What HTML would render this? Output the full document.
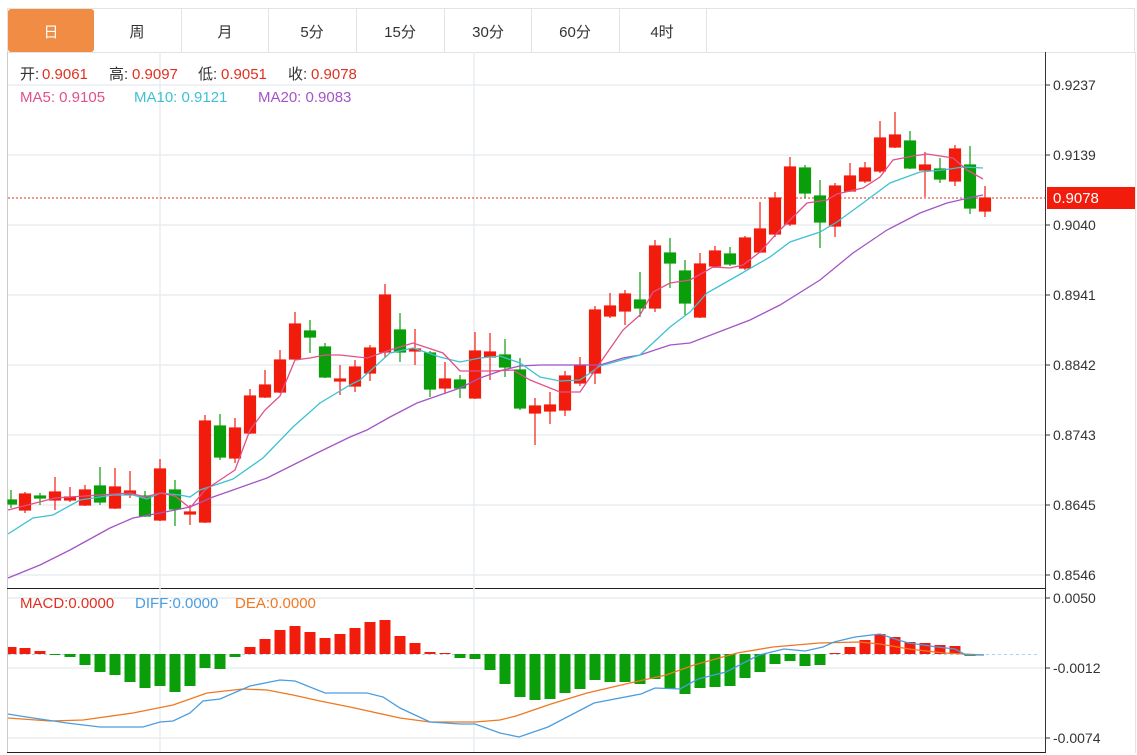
<!DOCTYPE html>
<html><head><meta charset="utf-8"><style>
html,body{margin:0;padding:0;background:#fff;}
body{width:1137px;height:755px;overflow:hidden;font-family:"Liberation Sans","Noto Sans CJK SC",sans-serif;}
</style></head><body>
<svg width="1137" height="755" xmlns="http://www.w3.org/2000/svg" style="position:absolute;left:0;top:0;font-family:'Liberation Sans','Noto Sans CJK SC',sans-serif">
<rect x="7.5" y="8.5" width="1127" height="44" fill="#fff" stroke="#e3e3e3"/>
<rect x="8" y="9" width="86" height="43" rx="3" fill="#f08c44"/>
<g stroke="#e3e3e3"><line x1="181.5" y1="9" x2="181.5" y2="52"/><line x1="268.5" y1="9" x2="268.5" y2="52"/><line x1="356.5" y1="9" x2="356.5" y2="52"/><line x1="444.5" y1="9" x2="444.5" y2="52"/><line x1="531.5" y1="9" x2="531.5" y2="52"/><line x1="619.5" y1="9" x2="619.5" y2="52"/><line x1="706.5" y1="9" x2="706.5" y2="52"/></g>
<g font-size="15" text-anchor="middle" fill="#333"><text x="51" y="37" fill="#fff">日</text><text x="137" y="37">周</text><text x="225" y="37">月</text><text x="312" y="37">5分</text><text x="400" y="37">15分</text><text x="488" y="37">30分</text><text x="575" y="37">60分</text><text x="662" y="37">4时</text></g>
<line x1="7.5" y1="52" x2="7.5" y2="753" stroke="#ccc"/>
<line x1="1135.5" y1="52" x2="1135.5" y2="753" stroke="#e3e3e3"/>
<line x1="1045.5" y1="52" x2="1045.5" y2="753" stroke="#333"/>
<line x1="7" y1="588.5" x2="1045" y2="588.5" stroke="#222"/>
<line x1="7" y1="752.5" x2="1045" y2="752.5" stroke="#222"/>
<g stroke="#e8edf2" stroke-width="1.5">
<line x1="8" y1="85" x2="1045" y2="85"/><line x1="8" y1="155" x2="1045" y2="155"/><line x1="8" y1="225" x2="1045" y2="225"/><line x1="8" y1="295" x2="1045" y2="295"/><line x1="8" y1="365" x2="1045" y2="365"/><line x1="8" y1="435" x2="1045" y2="435"/><line x1="8" y1="505" x2="1045" y2="505"/><line x1="8" y1="575" x2="1045" y2="575"/>
<line x1="8" y1="598" x2="1045" y2="598"/><line x1="8" y1="668" x2="1045" y2="668"/><line x1="8" y1="738" x2="1045" y2="738"/>
<line x1="160" y1="52" x2="160" y2="752"/><line x1="474" y1="52" x2="474" y2="752"/>
</g>
<g stroke="#333"><line x1="1045" y1="85" x2="1050" y2="85"/><line x1="1045" y1="155" x2="1050" y2="155"/><line x1="1045" y1="225" x2="1050" y2="225"/><line x1="1045" y1="295" x2="1050" y2="295"/><line x1="1045" y1="365" x2="1050" y2="365"/><line x1="1045" y1="435" x2="1050" y2="435"/><line x1="1045" y1="505" x2="1050" y2="505"/><line x1="1045" y1="575" x2="1050" y2="575"/><line x1="1045" y1="598" x2="1050" y2="598"/><line x1="1045" y1="668" x2="1050" y2="668"/><line x1="1045" y1="738" x2="1050" y2="738"/></g>
<g font-size="14" fill="#333"><text x="1053" y="90">0.9237</text><text x="1053" y="160">0.9139</text><text x="1053" y="230">0.9040</text><text x="1053" y="300">0.8941</text><text x="1053" y="370">0.8842</text><text x="1053" y="440">0.8743</text><text x="1053" y="510">0.8645</text><text x="1053" y="580">0.8546</text><text x="1053" y="603">0.0050</text><text x="1053" y="673">-0.0012</text><text x="1053" y="743">-0.0074</text></g>
<line x1="8" y1="198" x2="1045" y2="198" stroke="#e03020" stroke-dasharray="2,2"/>
<rect x="1047" y="187" width="88" height="22" fill="#f21c0c"/>
<text x="1053" y="203" font-size="15" fill="#fff">0.9078</text>
<g font-size="15">
<text x="20" y="79" fill="#333">开:</text><text x="42" y="79" fill="#e03020">0.9061</text>
<text x="109" y="79" fill="#333">高:</text><text x="132" y="79" fill="#e03020">0.9097</text>
<text x="198" y="79" fill="#333">低:</text><text x="221" y="79" fill="#e03020">0.9051</text>
<text x="288" y="79" fill="#333">收:</text><text x="311" y="79" fill="#e03020">0.9078</text>
<text x="20" y="102" fill="#e0508a">MA5: 0.9105</text>
<text x="134" y="102" fill="#3ec1d3">MA10: 0.9121</text>
<text x="258" y="102" fill="#a455c5">MA20: 0.9083</text>
<text x="20" y="608" fill="#e03020">MACD:0.0000</text>
<text x="135" y="608" fill="#4a9de0">DIFF:0.0000</text>
<text x="235" y="608" fill="#f07820">DEA:0.0000</text>
</g>
<g fill="#f21c0c" stroke="#f21c0c" stroke-width="1.2">
<line x1="25" y1="492" x2="25" y2="513"/><rect x="19.5" y="494" width="11" height="16"/>
<line x1="55" y1="477" x2="55" y2="510"/><rect x="49.5" y="492" width="11" height="8"/>
<line x1="70" y1="487" x2="70" y2="502"/><rect x="64.5" y="497" width="11" height="3"/>
<line x1="85" y1="485" x2="85" y2="506"/><rect x="79.5" y="490" width="11" height="15"/>
<line x1="115" y1="468" x2="115" y2="509"/><rect x="109.5" y="487" width="11" height="21"/>
<line x1="130" y1="471" x2="130" y2="498"/><rect x="124.5" y="491" width="11" height="3"/>
<line x1="160" y1="459" x2="160" y2="521"/><rect x="154.5" y="469" width="11" height="51"/>
<line x1="190" y1="505" x2="190" y2="525"/><rect x="184.5" y="512" width="11" height="2"/>
<line x1="205" y1="415" x2="205" y2="523"/><rect x="199.5" y="421" width="11" height="101"/>
<line x1="235" y1="418" x2="235" y2="463"/><rect x="229.5" y="428" width="11" height="30"/>
<line x1="250" y1="389" x2="250" y2="434"/><rect x="244.5" y="396" width="11" height="37"/>
<line x1="265" y1="370" x2="265" y2="398"/><rect x="259.5" y="385" width="11" height="12"/>
<line x1="280" y1="350" x2="280" y2="393"/><rect x="274.5" y="360" width="11" height="32"/>
<line x1="295" y1="312" x2="295" y2="360"/><rect x="289.5" y="324" width="11" height="35"/>
<line x1="340" y1="365" x2="340" y2="395"/><rect x="334.5" y="379" width="11" height="2"/>
<line x1="355" y1="360" x2="355" y2="392"/><rect x="349.5" y="367" width="11" height="19"/>
<line x1="370" y1="345" x2="370" y2="381"/><rect x="364.5" y="348" width="11" height="25"/>
<line x1="385" y1="284" x2="385" y2="358"/><rect x="379.5" y="295" width="11" height="57"/>
<line x1="415" y1="329" x2="415" y2="365"/><rect x="409.5" y="349" width="11" height="2"/>
<line x1="445" y1="362" x2="445" y2="393"/><rect x="439.5" y="379" width="11" height="9"/>
<line x1="475" y1="332" x2="475" y2="399"/><rect x="469.5" y="351" width="11" height="47"/>
<line x1="490" y1="333" x2="490" y2="380"/><rect x="484.5" y="352" width="11" height="5"/>
<line x1="535" y1="398" x2="535" y2="445"/><rect x="529.5" y="406" width="11" height="7"/>
<line x1="550" y1="392" x2="550" y2="424"/><rect x="544.5" y="405" width="11" height="6"/>
<line x1="565" y1="371" x2="565" y2="416"/><rect x="559.5" y="376" width="11" height="34"/>
<line x1="580" y1="357" x2="580" y2="386"/><rect x="574.5" y="365" width="11" height="18"/>
<line x1="595" y1="306" x2="595" y2="384"/><rect x="589.5" y="310" width="11" height="63"/>
<line x1="610" y1="293" x2="610" y2="318"/><rect x="604.5" y="306" width="11" height="10"/>
<line x1="625" y1="290" x2="625" y2="325"/><rect x="619.5" y="294" width="11" height="17"/>
<line x1="655" y1="240" x2="655" y2="312"/><rect x="649.5" y="246" width="11" height="62"/>
<line x1="700" y1="253" x2="700" y2="318"/><rect x="694.5" y="264" width="11" height="53"/>
<line x1="715" y1="246" x2="715" y2="268"/><rect x="709.5" y="251" width="11" height="15"/>
<line x1="745" y1="236" x2="745" y2="270"/><rect x="739.5" y="238" width="11" height="30"/>
<line x1="760" y1="202" x2="760" y2="253"/><rect x="754.5" y="229" width="11" height="23"/>
<line x1="775" y1="192" x2="775" y2="237"/><rect x="769.5" y="198" width="11" height="36"/>
<line x1="790" y1="157" x2="790" y2="226"/><rect x="784.5" y="167" width="11" height="57"/>
<line x1="835" y1="183" x2="835" y2="237"/><rect x="829.5" y="186" width="11" height="40"/>
<line x1="850" y1="163" x2="850" y2="192"/><rect x="844.5" y="176" width="11" height="15"/>
<line x1="865" y1="162" x2="865" y2="183"/><rect x="859.5" y="168" width="11" height="13"/>
<line x1="880" y1="121" x2="880" y2="173"/><rect x="874.5" y="138" width="11" height="33"/>
<line x1="895" y1="112" x2="895" y2="148"/><rect x="889.5" y="135" width="11" height="12"/>
<line x1="925" y1="152" x2="925" y2="197"/><rect x="919.5" y="165" width="11" height="5"/>
<line x1="955" y1="145" x2="955" y2="186"/><rect x="949.5" y="149" width="11" height="32"/>
<line x1="985" y1="186" x2="985" y2="217"/><rect x="979.5" y="198" width="11" height="13"/>
</g>
<g fill="#0a9e0a" stroke="#0a9e0a" stroke-width="1.2">
<line x1="11" y1="490" x2="11" y2="508"/><rect x="8" y="500" width="8.5" height="4"/>
<line x1="40" y1="493" x2="40" y2="505"/><rect x="34.5" y="496" width="11" height="2"/>
<line x1="100" y1="467" x2="100" y2="505"/><rect x="94.5" y="486" width="11" height="16"/>
<line x1="145" y1="491" x2="145" y2="517"/><rect x="139.5" y="496" width="11" height="20"/>
<line x1="175" y1="480" x2="175" y2="526"/><rect x="169.5" y="490" width="11" height="19"/>
<line x1="220" y1="414" x2="220" y2="460"/><rect x="214.5" y="426" width="11" height="31"/>
<line x1="310" y1="320" x2="310" y2="353"/><rect x="304.5" y="331" width="11" height="6"/>
<line x1="325" y1="343" x2="325" y2="378"/><rect x="319.5" y="347" width="11" height="30"/>
<line x1="400" y1="313" x2="400" y2="362"/><rect x="394.5" y="330" width="11" height="22"/>
<line x1="430" y1="351" x2="430" y2="397"/><rect x="424.5" y="353" width="11" height="36"/>
<line x1="460" y1="375" x2="460" y2="398"/><rect x="454.5" y="380" width="11" height="8"/>
<line x1="505" y1="339" x2="505" y2="377"/><rect x="499.5" y="355" width="11" height="12"/>
<line x1="520" y1="358" x2="520" y2="410"/><rect x="514.5" y="370" width="11" height="38"/>
<line x1="640" y1="272" x2="640" y2="317"/><rect x="634.5" y="300" width="11" height="8"/>
<line x1="670" y1="238" x2="670" y2="288"/><rect x="664.5" y="253" width="11" height="10"/>
<line x1="685" y1="260" x2="685" y2="315"/><rect x="679.5" y="271" width="11" height="32"/>
<line x1="730" y1="247" x2="730" y2="266"/><rect x="724.5" y="254" width="11" height="10"/>
<line x1="805" y1="165" x2="805" y2="198"/><rect x="799.5" y="168" width="11" height="25"/>
<line x1="820" y1="180" x2="820" y2="248"/><rect x="814.5" y="196" width="11" height="26"/>
<line x1="910" y1="131" x2="910" y2="169"/><rect x="904.5" y="141" width="11" height="27"/>
<line x1="940" y1="158" x2="940" y2="183"/><rect x="934.5" y="169" width="11" height="10"/>
<line x1="970" y1="146" x2="970" y2="214"/><rect x="964.5" y="165" width="11" height="43"/>
</g>
<g fill="none" stroke-width="1.3">
<polyline stroke="#a455c5" points="8,578 40,565 70,550 110,528 133,518 160,513 190,507 213,497 233,490 267,478 317,453 350,437 367,430 390,417 417,403 440,395 460,388 480,378 503,370 520,366 540,365 600,365 623,358 640,355 670,345 690,343 750,320 780,305 820,280 853,253 887,230 920,213 947,203 973,197 983,195"/>
<polyline stroke="#3ec1d3" points="8,534 33,518 53,515 80,500 113,495 133,495 147,499 160,493 180,495 190,497 200,490 233,479 263,458 293,427 320,403 350,385 360,380 390,353 413,348 440,357 460,362 480,358 500,356 520,363 540,377 560,381 580,380 600,366 640,355 670,327 690,312 707,293 730,280 770,257 790,242 820,232 837,222 863,203 890,183 920,172 943,170 963,167 983,168"/>
<polyline stroke="#e0508a" points="8,510 55,498 100,495 130,493 145,497 160,493 175,496 190,508 205,490 220,480 235,470 250,430 265,410 280,396 295,360 310,358 325,355 340,355 367,358 390,350 413,343 443,353 460,371 490,371 513,370 530,380 560,392 580,392 600,363 623,330 640,315 653,292 670,283 690,280 713,267 730,268 743,265 760,252 780,230 793,217 807,203 827,200 837,194 863,188 880,177 893,160 913,156 927,154 953,158 967,170 983,179"/>
</g>
<line x1="8" y1="654.5" x2="1040" y2="654.5" stroke="#a8d4ee" stroke-dasharray="3,3"/>
<g fill="#f21c0c">
<rect x="8" y="647" width="8.5" height="7"/><rect x="19.5" y="648" width="11" height="6"/><rect x="34.5" y="651" width="11" height="3"/>
<rect x="244.5" y="647" width="11" height="7"/><rect x="259.5" y="639" width="11" height="15"/><rect x="274.5" y="630" width="11" height="24"/><rect x="289.5" y="626" width="11" height="28"/><rect x="304.5" y="632" width="11" height="22"/><rect x="319.5" y="638" width="11" height="16"/><rect x="334.5" y="634" width="11" height="20"/><rect x="349.5" y="628" width="11" height="26"/><rect x="364.5" y="622" width="11" height="32"/><rect x="379.5" y="620" width="11" height="34"/><rect x="394.5" y="636" width="11" height="18"/><rect x="409.5" y="643" width="11" height="11"/><rect x="424.5" y="652" width="11" height="2"/><rect x="439.5" y="653" width="11" height="1"/>
<rect x="829.5" y="653" width="11" height="1"/><rect x="844.5" y="647" width="11" height="7"/><rect x="859.5" y="640" width="11" height="14"/><rect x="874.5" y="634" width="11" height="20"/><rect x="889.5" y="637" width="11" height="17"/><rect x="904.5" y="642" width="11" height="12"/><rect x="919.5" y="643" width="11" height="11"/><rect x="934.5" y="645" width="11" height="9"/><rect x="949.5" y="646" width="11" height="8"/>
</g>
<g fill="#0a9e0a">
<rect x="49.5" y="654" width="11" height="1"/><rect x="64.5" y="654" width="11" height="3"/><rect x="79.5" y="654" width="11" height="11"/><rect x="94.5" y="654" width="11" height="18"/><rect x="109.5" y="654" width="11" height="21"/><rect x="124.5" y="654" width="11" height="28"/><rect x="139.5" y="654" width="11" height="34"/><rect x="154.5" y="654" width="11" height="32"/><rect x="169.5" y="654" width="11" height="38"/><rect x="184.5" y="654" width="11" height="32"/><rect x="199.5" y="654" width="11" height="14"/><rect x="214.5" y="654" width="11" height="15"/><rect x="229.5" y="654" width="11" height="3"/>
<rect x="454.5" y="654" width="11" height="4"/><rect x="469.5" y="654" width="11" height="5"/><rect x="484.5" y="654" width="11" height="16"/><rect x="499.5" y="654" width="11" height="30"/><rect x="514.5" y="654" width="11" height="43"/><rect x="529.5" y="654" width="11" height="46"/><rect x="544.5" y="654" width="11" height="45"/><rect x="559.5" y="654" width="11" height="39"/><rect x="574.5" y="654" width="11" height="35"/><rect x="589.5" y="654" width="11" height="26"/><rect x="604.5" y="654" width="11" height="28"/><rect x="619.5" y="654" width="11" height="28"/><rect x="634.5" y="654" width="11" height="30"/><rect x="649.5" y="654" width="11" height="25"/><rect x="664.5" y="654" width="11" height="35"/><rect x="679.5" y="654" width="11" height="40"/><rect x="694.5" y="654" width="11" height="34"/><rect x="709.5" y="654" width="11" height="33"/><rect x="724.5" y="654" width="11" height="32"/><rect x="739.5" y="654" width="11" height="24"/><rect x="754.5" y="654" width="11" height="18"/><rect x="769.5" y="654" width="11" height="10"/><rect x="784.5" y="654" width="11" height="7"/><rect x="799.5" y="654" width="11" height="12"/><rect x="814.5" y="654" width="11" height="11"/><rect x="964.5" y="654" width="11" height="2"/>
</g>
<g fill="none" stroke-width="1.3">
<polyline stroke="#f07820" points="8,718 50,721 83,720 133,713 173,705 207,693 243,689 267,690 293,695 320,701 350,707 400,718 430,722 475,722 500,720 516,716 551,704 587,693 630,683 666,675 694,665 737,653 773,647 819,643 859,642 880,644 909,649 944,653 984,655"/>
<polyline stroke="#4a9de0" points="8,714 20,716 40,719 67,723 100,727 143,727 160,722 173,721 190,713 203,701 220,699 250,686 280,680 295,681 325,693 340,693 367,693 383,697 400,708 430,722 460,724 475,724 500,733 519,737 548,727 594,703 641,694 655,688 680,689 698,679 726,672 759,655 784,649 805,651 823,647 834,642 855,637 880,634 898,640 909,643 937,647 955,649 966,655 984,655"/>
</g>
</svg>
</body></html>
